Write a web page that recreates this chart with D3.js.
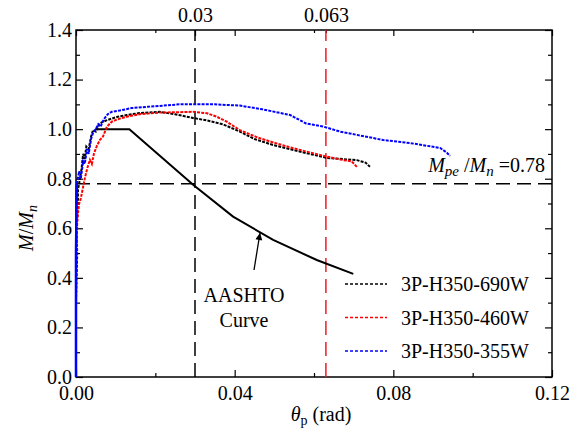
<!DOCTYPE html>
<html>
<head>
<meta charset="utf-8">
<script src="https://cdn.jsdelivr.net/npm/d3@7"></script>
</head>
<body style="margin:0">
<div id="chart"></div>
<script>
// data: [theta_p (rad), M/Mn]
const s690W = [[0,0],[0,0.3],[0.0003,0.5],[0.0001,0.6],[0.0003,0.645],[0.0005,0.7],[0.0005,0.755],[0.001,0.8],[0.0014,0.84],[0.0018,0.9],[0.0022,0.88],[0.0026,0.93],[0.0032,0.92],[0.0038,0.97],[0.0043,0.996],[0.005,0.99],[0.0058,1.02],[0.0068,1.03],[0.0085,1.04],[0.0105,1.05],[0.0128,1.057],[0.016,1.065],[0.021,1.07],[0.025,1.06],[0.0295,1.045],[0.033,1.035],[0.037,1.02],[0.0413,0.99],[0.045,0.96],[0.0497,0.936],[0.055,0.915],[0.0632,0.884],[0.0708,0.875],[0.073,0.865],[0.0741,0.848]]
const s460W = [[0,0],[0,0.4],[0.0003,0.62],[0.0005,0.66],[0.0008,0.7],[0.0012,0.72],[0.0018,0.767],[0.0022,0.8],[0.0028,0.84],[0.0035,0.876],[0.004,0.86],[0.0045,0.9],[0.0052,0.93],[0.006,0.956],[0.0068,0.97],[0.0078,1.01],[0.009,1.03],[0.0105,1.04],[0.0128,1.05],[0.016,1.06],[0.021,1.067],[0.025,1.068],[0.0295,1.07],[0.033,1.064],[0.0355,1.05],[0.038,1.03],[0.0413,0.996],[0.046,0.965],[0.05,0.945],[0.055,0.922],[0.063,0.89],[0.067,0.876],[0.0695,0.87],[0.0708,0.848]]
const s355W = [[0,0],[0,0.5],[0.0002,0.78],[0.0008,0.83],[0.0012,0.8],[0.0018,0.87],[0.0022,0.86],[0.0028,0.92],[0.0032,0.9],[0.0038,0.96],[0.0044,0.99],[0.005,1.0],[0.0056,1.02],[0.0062,1.01],[0.007,1.04],[0.008,1.06],[0.009,1.07],[0.011,1.075],[0.014,1.085],[0.018,1.09],[0.022,1.095],[0.026,1.1],[0.03,1.1],[0.035,1.1],[0.0413,1.095],[0.047,1.08],[0.054,1.057],[0.058,1.023],[0.0624,1.01],[0.0666,0.99],[0.0775,0.956],[0.0842,0.944],[0.0918,0.924],[0.0935,0.905],[0.0943,0.892]]
const aashto = [[0.0048,1.0],[0.01345,1.0],[0.0296,0.775],[0.0396,0.647],[0.0497,0.553],[0.0607,0.472],[0.0699,0.416]]

const seriesNames = ['3P-H350-690W','3P-H350-460W','3P-H350-355W']
const seriesColors = ['#000000','#ff0000','#0000ff']
const xMajor = [0,0.04,0.08,0.12]
const xMinor = [0.02,0.06,0.10]
const yMajor = [0,0.2,0.4,0.6,0.8,1.0,1.2,1.4]
const yMinor = [0.1,0.3,0.5,0.7,0.9,1.1,1.3]
const limits = [0.03, 0.063]
const mpeRatio = 0.78

const FONT = 'Liberation Serif'
const width = 575, height = 430
const margin = {left: 76, right: 23, top: 30, bottom: 53}

const svg = d3.select('#chart').append('svg')
    .attr('width', width)
    .attr('height', height)
    .attr('font-family', FONT)

const x = d3.scaleLinear().domain([0,0.12]).range([margin.left, width-margin.right])
const y = d3.scaleLinear().domain([0,1.4]).range([height-margin.bottom, margin.top])

const fmt2 = d3.format('.2f'), fmt1 = d3.format('.1f')

function addAxis(axis, tx, ty) {
    const g = svg.append('g')
        .attr('transform', `translate(${tx},${ty})`)
        .call(axis)
    g.attr('font-family', FONT).attr('font-size', 20)
    g.selectAll('text').style('font-family', FONT).attr('fill', '#000')
    g.select('.domain').remove()
    g.selectAll('.tick line').attr('stroke', '#000').attr('stroke-width', 1.2)
    return g
}

// axes, ticks pointing inside
addAxis(d3.axisBottom(x).tickValues(xMajor).tickFormat(fmt2).tickSize(-7).tickSizeOuter(0).tickPadding(9), 0, y(0))
addAxis(d3.axisBottom(x).tickValues(xMinor).tickFormat('').tickSize(-4).tickSizeOuter(0), 0, y(0))
addAxis(d3.axisLeft(y).tickValues(yMajor).tickFormat(fmt1).tickSize(-7).tickSizeOuter(0).tickPadding(4), x(0), 0)
addAxis(d3.axisLeft(y).tickValues(yMinor).tickFormat('').tickSize(-4).tickSizeOuter(0), x(0), 0)
addAxis(d3.axisTop(x).tickValues(xMajor.concat(limits[0])).tickFormat(d => d==limits[0] ? '0.03' : '').tickSize(-6).tickSizeOuter(0).tickPadding(8), 0, y(1.4))
addAxis(d3.axisTop(x).tickValues(xMinor.concat(limits[1])).tickFormat(d => d==limits[1] ? '0.063' : '').tickSize(-3).tickSizeOuter(0).tickPadding(8), 0, y(1.4))
addAxis(d3.axisRight(y).tickValues(yMajor).tickFormat('').tickSize(-7).tickSizeOuter(0), x(0.12), 0)
addAxis(d3.axisRight(y).tickValues(yMinor).tickFormat('').tickSize(-4).tickSizeOuter(0), x(0.12), 0)

// frame
svg.append('rect')
    .attr('x', x(0)).attr('y', y(1.4))
    .attr('width', x(0.12)-x(0)).attr('height', y(0)-y(1.4))
    .attr('fill', 'none').attr('stroke', '#000').attr('stroke-width', 1.5)

// reference lines
svg.append('line')
    .attr('x1', x(0)).attr('x2', x(0.12)).attr('y1', y(mpeRatio)).attr('y2', y(mpeRatio))
    .attr('stroke', '#000').attr('stroke-width', 1.5).attr('stroke-dasharray', '14,7')
svg.append('line')
    .attr('x1', x(limits[0])).attr('x2', x(limits[0])).attr('y1', y(0)).attr('y2', y(1.4))
    .attr('stroke', '#000').attr('stroke-width', 1.5).attr('stroke-dasharray', '14,7')
svg.append('line')
    .attr('x1', x(limits[1])).attr('x2', x(limits[1])).attr('y1', y(0)).attr('y2', y(1.4))
    .attr('stroke', '#ee1c24').attr('stroke-width', 1.5).attr('stroke-dasharray', '14,7')

const line = d3.line().x(d => x(d[0])).y(d => y(d[1]))

// AASHTO curve
svg.append('path')
    .attr('d', line(aashto))
    .attr('fill', 'none').attr('stroke', '#000').attr('stroke-width', 2)

// test curves
const allSeries = [s690W, s460W, s355W]
allSeries.forEach((s, i) => {
    svg.append('path')
        .attr('d', line(s))
        .attr('fill', 'none')
        .attr('stroke', seriesColors[i])
        .attr('stroke-width', 2)
        .attr('stroke-dasharray', '3,1.2')
})
// solid blue along the axis where the record rises
svg.append('path')
    .attr('d', line(s355W.slice(0,3)))
    .attr('fill', 'none').attr('stroke', '#0000ff').attr('stroke-width', 2.5)

function addText(tx, ty, anchor) {
    return svg.append('text')
        .attr('x', tx).attr('y', ty)
        .attr('text-anchor', anchor)
        .attr('font-size', 20)
        .style('font-family', FONT)
}

// legend
seriesNames.forEach((n, i) => {
    const ly = 284 + i*33.5
    svg.append('line')
        .attr('x1', 345).attr('x2', 387).attr('y1', ly).attr('y2', ly)
        .attr('stroke', seriesColors[i]).attr('stroke-width', 1.5).attr('stroke-dasharray', '3,2')
    addText(401, ly + 7, 'start').text(n)
})

// AASHTO label and arrow
addText(244, 302, 'middle').text('AASHTO')
addText(244, 327, 'middle').text('Curve')
svg.append('defs').append('marker')
    .attr('id', 'arrow')
    .attr('viewBox', '0 0 10 10')
    .attr('refX', 10).attr('refY', 5)
    .attr('markerWidth', 10).attr('markerHeight', 7)
    .attr('markerUnits', 'userSpaceOnUse')
    .attr('orient', 'auto')
    .append('path').attr('d', 'M0,0 L10,5 L0,10 z').attr('fill', '#000')
svg.append('line')
    .attr('x1', 254).attr('y1', 270).attr('x2', 260).attr('y2', 233)
    .attr('stroke', '#000').attr('stroke-width', 1.3)
    .attr('marker-end', 'url(#arrow)')

// Mpe/Mn label
const mt = addText(545, 172, 'end')
mt.append('tspan').attr('font-style', 'italic').text('M')
mt.append('tspan').attr('font-style', 'italic').attr('font-size', 15).attr('dy', 4).text('pe')
mt.append('tspan').attr('dy', -4).text(' /')
mt.append('tspan').attr('font-style', 'italic').text('M')
mt.append('tspan').attr('font-style', 'italic').attr('font-size', 15).attr('dy', 4).text('n')
mt.append('tspan').attr('dy', -4).text(' =0.78')

// axis titles
const xt = addText(321, 421, 'middle')
xt.append('tspan').attr('font-style', 'italic').text('θ')
xt.append('tspan').attr('font-size', 14).attr('dy', 4).text('p')
xt.append('tspan').attr('dy', -4).text(' (rad)')

const yt = addText(0, 0, 'middle')
    .attr('transform', 'translate(33,228) rotate(-90)')
yt.append('tspan').attr('font-style', 'italic').text('M')
yt.append('tspan').text('/')
yt.append('tspan').attr('font-style', 'italic').text('M')
yt.append('tspan').attr('font-style', 'italic').attr('font-size', 14).attr('dy', 4).text('n')
</script>
</body>
</html>
